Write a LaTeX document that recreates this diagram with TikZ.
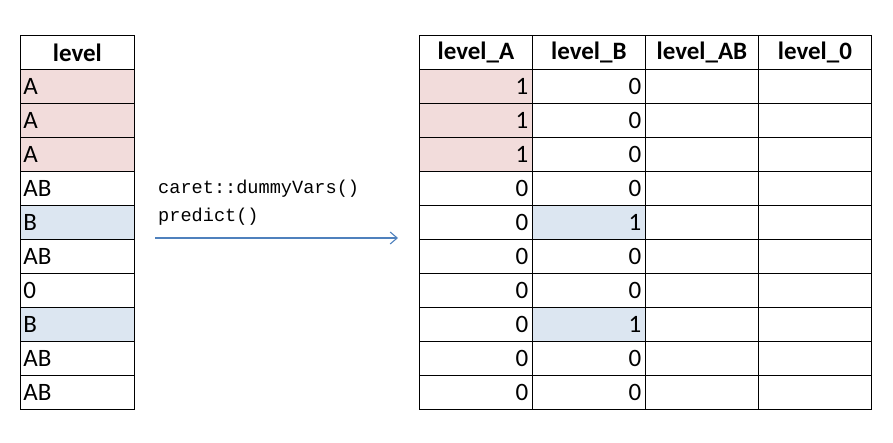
\documentclass[tikz,border=0pt]{standalone}
\usetikzlibrary{arrows.meta}
\usepackage{fontspec}
\setmainfont{Carlito}
\newfontfamily\monof{Liberation Mono}
\definecolor{pinkc}{HTML}{F2DCDB}
\definecolor{bluec}{HTML}{DCE6F1}
\definecolor{arrc}{HTML}{4F81BD}
\begin{document}
\begin{tikzpicture}[x=1pt,y=-1pt,
  cell/.style={draw=black,line width=0.8pt,minimum width=#1,minimum height=34pt,inner sep=0pt,anchor=north west,font=\fontsize{25}{28}\selectfont},
  hdr/.style={font=\fontsize{25}{28}\selectfont\bfseries}]
\useasboundingbox (0,0) rectangle (893,443);
% left table
\node[cell=114pt,hdr] (L0) at (20,35) {level};
\foreach \v [count=\i] in {A,A,A,AB,B,AB,0,B,AB,AB}{
  \pgfmathsetmacro\yy{35+34*\i}
  \def\fc{white}
  \ifnum\i<4 \def\fc{pinkc}\fi
  \ifnum\i=5 \def\fc{bluec}\fi
  \ifnum\i=8 \def\fc{bluec}\fi
  \node[cell=114pt,fill=\fc,text width=108pt,align=left] (L\i) at (20,\yy) {\v};
}
% right table headers
\foreach \h/\c [count=\j] in {level\_A/0,level\_B/1,level\_AB/2,level\_0/3}{
  \pgfmathsetmacro\xx{419+113*\c}
  \node[cell=113pt,hdr] (H\j) at (\xx,35) {\h};
}
\foreach \a/\b [count=\i] in {1/0,1/0,1/0,0/0,0/1,0/0,0/0,0/1,0/0,0/0}{
  \pgfmathsetmacro\yy{35+34*\i}
  \def\fa{white}\def\fb{white}
  \ifnum\i<4 \def\fa{pinkc}\fi
  \ifnum\i=5 \def\fb{bluec}\fi
  \ifnum\i=8 \def\fb{bluec}\fi
  \node[cell=113pt,fill=\fa,text width=105pt,align=right] (A\i) at (419,\yy) {\a};
  \node[cell=113pt,fill=\fb,text width=105pt,align=right] (B\i) at (532,\yy) {\b};
  \node[cell=113pt] (C\i) at (645,\yy) {};
  \node[cell=113pt] (D\i) at (758,\yy) {};
}
\node[anchor=north west,inner sep=0pt,align=left,font=\monof\fontsize{18.6}{28}\selectfont] (lbl) at (158,180) {caret::dummyVars()\\predict()};
\coordinate (s) at (155,238);
\coordinate (e) at (398,238);
\draw[arrc,line width=1.1pt,-{Straight Barb[length=7pt,width=12pt]}] (s) -- (e);
\end{tikzpicture}
\end{document}
